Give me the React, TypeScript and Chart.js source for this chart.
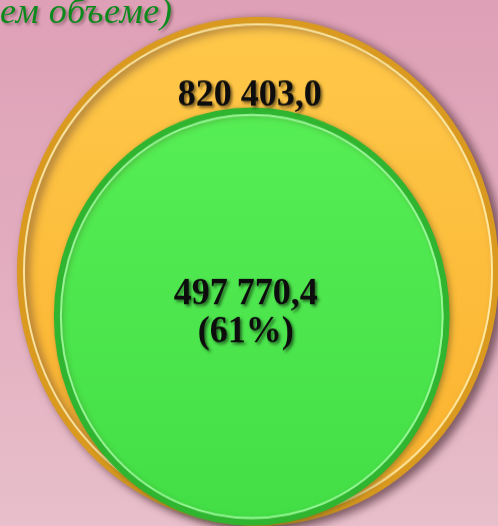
import React, { useEffect, useRef } from "react";
import { Chart, registerables } from "chart.js";

Chart.register(...registerables);

// ---- data ----
const categories = ["Всего", "В том числе"];
const values = [820403.0, 497770.4];
const titleText = "ем объеме)";

// ---- layout / style constants ----
const W = 498;
const H = 526;
const CANVAS_H = 498; // drawn square, stretched to H via CSS (slightly oval look)
const OUTER_R_PX = 238;
const OUTER_CX = 258;
const OUTER_CY = 257;
const SIZE_EXP = 0.4;
const TANGENT_DIR = [-0.145, -0.989];

function fmt(v: number): string {
  const [i, d] = v.toFixed(1).split(".");
  return i.replace(/\B(?=(\d{3})+(?!\d))/g, " ") + "," + d;
}

const rUnits = values.map((v) => Math.pow(v, SIZE_EXP));
const k = OUTER_R_PX / rUnits[0]; // pixels per data unit on both axes
const offset = rUnits[0] - rUnits[1];
const points = [
  { x: 0, y: 0, r: rUnits[0] * k },
  { x: TANGENT_DIR[0] * offset, y: TANGENT_DIR[1] * offset, r: rUnits[1] * k },
];
const pct = Math.round((values[1] / values[0]) * 100);

const gradFor = (top: string, bottom: string, fallback: string) => (ctx: any) => {
  const area = ctx.chart.chartArea;
  if (!area) return fallback;
  const g = ctx.chart.ctx.createLinearGradient(0, area.top, 0, area.bottom);
  g.addColorStop(0, top);
  g.addColorStop(1, bottom);
  return g;
};

const decorPlugin = {
  id: "decor",
  beforeDatasetDraw(chart: any, args: any) {
    const c = chart.ctx;
    c.save();
    if (args.index === 1) {
      c.shadowColor = "rgba(70,40,50,0.65)";
      c.shadowBlur = 10;
      c.shadowOffsetX = 5;
      c.shadowOffsetY = 3;
    } else {
      c.shadowColor = "rgba(60,60,20,0.35)";
      c.shadowBlur = 6;
      c.shadowOffsetX = 2;
      c.shadowOffsetY = 2;
    }
  },
  afterDatasetDraw(chart: any, args: any) {
    const c = chart.ctx;
    c.restore();
    const el = chart.getDatasetMeta(args.index).data[0];
    if (!el) return;
    const r = el.options.radius;
    if (!(r > 5)) return;
    c.save();
    c.beginPath();
    c.arc(el.x, el.y, r - 4, 0, Math.PI * 2);
    c.lineWidth = 2;
    c.strokeStyle = args.index === 1 ? "rgba(255,236,170,0.9)" : "rgba(170,255,170,0.8)";
    c.stroke();
    c.restore();
  },
  afterDatasetsDraw(chart: any) {
    const c = chart.ctx;
    const inner = chart.getDatasetMeta(0).data[0];
    if (!inner) return;
    const ir = inner.options.radius;
    c.save();
    c.font = "bold 36px 'Liberation Serif', 'Times New Roman', serif";
    c.textAlign = "center";
    c.textBaseline = "middle";
    c.fillStyle = "#0d0d0d";
    c.shadowColor = "rgba(0,0,0,0.55)";
    c.shadowBlur = 3;
    c.shadowOffsetX = 2;
    c.shadowOffsetY = 2;
    c.fillText(fmt(values[0]), inner.x - 2, inner.y - ir - 14);
    c.fillText(fmt(values[1]), inner.x - 6, inner.y - 21);
    c.fillText("(" + pct + "%)", inner.x - 6, inner.y + 15);
    c.restore();
  },
};

export default function App() {
  const ref = useRef<HTMLCanvasElement | null>(null);

  useEffect(() => {
    document.body.style.margin = "0";
    if (!ref.current) return;
    const chart = new Chart(ref.current, {
      type: "bubble",
      data: {
        datasets: [
          {
            label: categories[1],
            data: [points[1]],
            order: 1,
            clip: false,
            backgroundColor: gradFor("#5cf259", "#43de46", "#48e248"),
            borderColor: "#2fb52f",
            borderWidth: 6,
          } as any,
          {
            label: categories[0],
            data: [points[0]],
            order: 2,
            clip: false,
            backgroundColor: gradFor("#ffc94b", "#fbb22e", "#fcb834"),
            borderColor: "#d99a1f",
            borderWidth: 6,
          } as any,
        ],
      },
      options: {
        animation: false,
        responsive: false,
        maintainAspectRatio: false,
        layout: { padding: 0, autoPadding: false },
        events: [],
        plugins: {
          legend: { display: false },
          tooltip: { enabled: false },
          title: { display: false },
        },
        scales: {
          x: {
            type: "linear",
            display: false,
            min: -OUTER_CX / k,
            max: (W - OUTER_CX) / k,
          },
          y: {
            type: "linear",
            display: false,
            min: -(CANVAS_H - OUTER_CY) / k,
            max: OUTER_CY / k,
          },
        },
      } as any,
      plugins: [decorPlugin],
    });
    return () => chart.destroy();
  }, []);

  return (
    <div
      style={{
        position: "relative",
        width: W,
        height: H,
        overflow: "hidden",
        background: "linear-gradient(180deg, #dea0b6 0%, #e3adbf 50%, #e8bfcb 100%)",
      }}
    >
      <canvas
        ref={ref}
        width={W}
        height={CANVAS_H}
        style={{ display: "block", width: W + "px", height: H + "px" }}
      />
      <div
        style={{
          position: "absolute",
          left: 0,
          top: -10,
          fontFamily: "'Liberation Serif', 'Times New Roman', serif",
          fontStyle: "italic",
          fontSize: 36,
          letterSpacing: "0.6px",
          color: "#0b8a1c",
          textShadow: "2px 2px 3px rgba(60,30,40,0.45)",
          whiteSpace: "nowrap",
          lineHeight: 1.2,
        }}
      >
        {titleText}
      </div>
    </div>
  );
}
